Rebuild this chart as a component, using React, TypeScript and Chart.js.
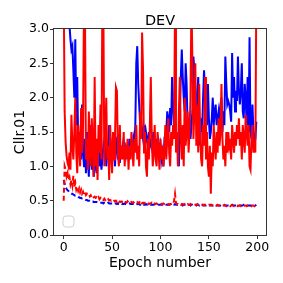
import React, { useEffect, useRef } from "react";
import { Chart, registerables } from "chart.js";

Chart.register(...registerables);

const epochs: number[] = Array.from({ length: 200 }, (_, i) => i);

const blueSolid: number[] = [
  4.5, 4.2, 3.9, 3.6, 3.4, 3.2, 3.05, 2.85, 2.7, 2.75,
  2.4, 2.0, 2.85, 1.6, 2.3, 1.3, 1.2, 1.5, 1.1, 1.9,
  1.2, 1.0, 1.4, 0.9, 1.5, 1.1, 0.85, 1.6, 1.2, 0.95,
  1.3, 0.85, 1.0, 1.2, 0.9, 1.1, 1.4, 1.0, 1.2, 0.95,
  1.1, 1.3, 1.2, 1.5, 1.0, 1.2, 1.1, 1.6, 1.3, 1.15,
  1.3, 1.2, 1.25, 1.0, 1.35, 1.4, 1.1, 1.25, 1.05, 1.3,
  1.2, 1.3, 1.15, 1.35, 1.1, 1.25, 1.3, 1.2, 1.4, 1.15,
  1.3, 1.25, 1.4, 1.3, 1.6, 2.5, 2.75, 2.2, 1.9, 1.6,
  1.7, 1.5, 1.4, 1.6, 1.3, 1.5, 1.4, 1.3, 1.5, 1.35,
  1.3, 1.4, 1.2, 1.5, 1.3, 1.2, 1.4, 1.25, 1.35, 1.2,
  1.3, 1.1, 1.2, 1.0, 1.35, 1.3, 1.5, 1.8, 1.7, 1.5,
  1.85, 1.6, 2.3, 1.9, 1.6, 1.5, 1.4, 1.3, 1.2, 1.0,
  1.8, 2.3, 2.7, 2.3, 2.0, 1.8, 2.5, 2.2, 1.6, 1.5,
  1.7, 1.4, 1.6, 1.8, 2.6, 2.4, 2.1, 1.7, 2.0, 2.3,
  1.5, 1.3, 1.7, 1.5, 2.0, 2.4, 2.1, 1.8, 1.6, 2.2,
  1.7, 1.4, 1.5, 1.7, 2.0, 1.6, 1.8, 1.9, 1.6, 1.7,
  1.8, 1.6, 1.9, 2.0, 1.5, 1.8, 1.6, 2.6, 2.2, 1.9,
  1.95, 1.9, 1.8, 1.65, 2.65, 2.0, 2.3, 1.8, 2.1, 1.95,
  2.6, 2.1, 1.9, 2.1, 2.5, 1.8, 1.7, 2.2, 2.0, 1.6,
  2.3, 1.5, 2.88, 1.5, 1.4, 1.9, 1.5, 1.35, 1.4, 1.65,
];

const redSolid: number[] = [
  3.6, 1.8, 1.35, 1.15, 1.05, 1.0, 1.2, 0.95, 1.75, 1.3,
  1.1, 1.5, 2.0, 1.2, 0.9, 1.6, 1.3, 1.0, 1.85, 1.2,
  1.6, 3.4, 3.2, 1.1, 1.4, 0.95, 1.8, 1.2, 1.0, 1.7,
  1.3, 0.85, 2.3, 1.0, 1.4, 0.8, 1.6, 1.2, 1.9, 1.1,
  3.5, 3.3, 1.0, 1.5, 2.0, 1.1, 1.3, 0.8, 1.6, 1.2,
  0.9, 1.5, 1.1, 1.4, 2.15, 2.1, 1.2, 1.0, 1.6, 1.1,
  1.3, 1.1, 1.5, 1.0, 1.3, 1.2, 1.4, 0.95, 1.3, 1.1,
  1.5, 1.2, 1.0, 1.4, 1.2, 1.6, 1.1, 1.3, 1.0, 1.8,
  1.4, 2.95, 2.4, 1.2, 1.5, 1.0, 0.85, 1.4, 1.1, 1.6,
  2.3, 1.4, 1.0, 1.2, 1.6, 1.1, 1.0, 1.5, 1.2, 0.95,
  1.4, 1.1, 1.3, 1.0, 1.2, 1.6, 1.1, 1.4, 1.7, 1.2,
  1.0, 1.5, 1.3, 1.6, 1.4, 3.3, 1.2, 1.5, 1.0, 1.8,
  2.3, 1.4, 1.1, 1.6, 1.0, 2.0, 1.3, 1.5, 1.8, 1.2,
  1.5, 2.0, 3.4, 2.5, 1.4, 1.8, 2.5, 1.3, 1.9, 1.2,
  2.2, 1.5, 1.1, 1.0, 1.6, 1.3, 2.3, 1.1, 1.5, 1.0,
  0.85, 1.3, 0.6, 1.2, 1.0, 1.6, 1.3, 1.1, 1.5, 1.2,
  1.7, 1.3, 1.5, 2.2, 1.4, 1.1, 1.3, 1.0, 1.5, 1.2,
  1.5, 1.3, 1.4, 1.1, 1.6, 1.4, 1.2, 1.5, 1.3, 1.6,
  1.4, 1.7, 1.3, 1.5, 1.1, 1.6, 1.4, 1.2, 1.75, 1.5,
  1.3, 1.6, 1.0, 0.95, 1.4, 1.6, 1.2, 1.3, 1.2, 3.5,
];

const blueDashed: number[] = [
  0.8, 0.75, 0.7, 0.67, 0.65, 0.64, 0.62, 0.61, 0.6, 0.6,
  0.59, 0.58, 0.57, 0.57, 0.56, 0.55, 0.55, 0.54, 0.54, 0.53,
  0.53, 0.52, 0.52, 0.51, 0.51, 0.5, 0.5, 0.5, 0.49, 0.49,
  0.49, 0.48, 0.48, 0.48, 0.48, 0.47, 0.47, 0.47, 0.47, 0.47,
  0.47, 0.46, 0.47, 0.46, 0.46, 0.46, 0.47, 0.46, 0.46, 0.46,
  0.46, 0.46, 0.45, 0.46, 0.46, 0.45, 0.46, 0.45, 0.45, 0.46,
  0.45, 0.45, 0.45, 0.46, 0.45, 0.45, 0.45, 0.45, 0.46, 0.45,
  0.45, 0.45, 0.45, 0.45, 0.45, 0.44, 0.45, 0.45, 0.45, 0.44,
  0.45, 0.44, 0.45, 0.44, 0.44, 0.45, 0.44, 0.44, 0.44, 0.45,
  0.44, 0.44, 0.44, 0.44, 0.45, 0.44, 0.44, 0.44, 0.44, 0.44,
  0.44, 0.44, 0.44, 0.45, 0.44, 0.44, 0.44, 0.44, 0.44, 0.44,
  0.44, 0.44, 0.44, 0.44, 0.44, 0.45, 0.44, 0.44, 0.44, 0.44,
  0.44, 0.44, 0.44, 0.43, 0.44, 0.44, 0.44, 0.43, 0.44, 0.44,
  0.44, 0.43, 0.44, 0.44, 0.43, 0.44, 0.44, 0.43, 0.44, 0.44,
  0.43, 0.44, 0.43, 0.44, 0.43, 0.44, 0.43, 0.43, 0.44, 0.43,
  0.43, 0.43, 0.44, 0.43, 0.43, 0.43, 0.44, 0.43, 0.43, 0.43,
  0.43, 0.43, 0.43, 0.44, 0.43, 0.43, 0.43, 0.43, 0.43, 0.43,
  0.43, 0.43, 0.43, 0.43, 0.44, 0.43, 0.43, 0.43, 0.43, 0.43,
  0.43, 0.43, 0.43, 0.43, 0.43, 0.43, 0.44, 0.43, 0.43, 0.43,
  0.43, 0.43, 0.43, 0.43, 0.43, 0.43, 0.43, 0.43, 0.43, 0.44,
];

const redDashed: number[] = [
  0.5, 1.0, 0.95, 0.85, 0.9, 0.8, 0.84, 0.74, 0.8, 0.72,
  0.86, 0.7, 0.76, 0.66, 0.7, 0.64, 0.68, 0.62, 0.66, 0.6,
  0.63, 0.59, 0.62, 0.58, 0.6, 0.58, 0.59, 0.56, 0.58, 0.55,
  0.57, 0.55, 0.56, 0.54, 0.55, 0.53, 0.55, 0.52, 0.54, 0.52,
  0.53, 0.51, 0.53, 0.51, 0.52, 0.5, 0.52, 0.5, 0.51, 0.5,
  0.51, 0.49, 0.5, 0.49, 0.5, 0.48, 0.5, 0.48, 0.49, 0.48,
  0.49, 0.48, 0.49, 0.47, 0.48, 0.47, 0.49, 0.47, 0.48, 0.47,
  0.48, 0.47, 0.48, 0.46, 0.47, 0.47, 0.48, 0.46, 0.47, 0.5,
  0.47, 0.46, 0.47, 0.46, 0.47, 0.46, 0.46, 0.47, 0.45, 0.46,
  0.46, 0.47, 0.45, 0.46, 0.46, 0.45, 0.46, 0.45, 0.46, 0.45,
  0.46, 0.45, 0.45, 0.46, 0.45, 0.45, 0.46, 0.45, 0.45, 0.44,
  0.45, 0.45, 0.46, 0.45, 0.5, 0.6, 0.47, 0.45, 0.45, 0.44,
  0.45, 0.44, 0.45, 0.45, 0.44, 0.45, 0.44, 0.44, 0.45, 0.44,
  0.44, 0.45, 0.44, 0.44, 0.45, 0.44, 0.44, 0.44, 0.45, 0.44,
  0.44, 0.44, 0.45, 0.44, 0.44, 0.43, 0.44, 0.44, 0.44, 0.43,
  0.44, 0.44, 0.43, 0.44, 0.43, 0.44, 0.44, 0.43, 0.43, 0.44,
  0.43, 0.43, 0.44, 0.43, 0.43, 0.43, 0.44, 0.43, 0.42, 0.43,
  0.43, 0.43, 0.42, 0.43, 0.43, 0.43, 0.42, 0.43, 0.43, 0.43,
  0.42, 0.43, 0.43, 0.42, 0.43, 0.43, 0.42, 0.43, 0.43, 0.42,
  0.43, 0.43, 0.42, 0.43, 0.42, 0.43, 0.43, 0.42, 0.43, 0.44,
];

const xTickValues: number[] = [0, 50, 100, 150, 200];
const titleText = "DEV";

const FONT = "'DejaVu Sans', sans-serif";

const framePlugin = {
  id: "frameAndLegend",
  afterDatasetsDraw(chart: any) {
    const { ctx, chartArea } = chart;
    ctx.save();
    ctx.strokeStyle = "#333";
    ctx.lineWidth = 1;
    ctx.strokeRect(
      Math.round(chartArea.left) - 0.5,
      Math.round(chartArea.top) - 0.5,
      Math.round(chartArea.right - chartArea.left) + 1,
      Math.round(chartArea.bottom - chartArea.top) + 1
    );
    // empty legend box (matplotlib legend with no handles)
    const x = chartArea.left + 9;
    const y = chartArea.bottom - 19;
    const w = 11;
    const h = 11;
    const r = 3;
    ctx.beginPath();
    ctx.moveTo(x + r, y);
    ctx.arcTo(x + w, y, x + w, y + h, r);
    ctx.arcTo(x + w, y + h, x, y + h, r);
    ctx.arcTo(x, y + h, x, y, r);
    ctx.arcTo(x, y, x + w, y, r);
    ctx.closePath();
    ctx.fillStyle = "rgba(255,255,255,0.8)";
    ctx.fill();
    ctx.strokeStyle = "#d0d0d0";
    ctx.lineWidth = 1;
    ctx.stroke();
    // title centred over the axes
    ctx.fillStyle = "#000";
    ctx.font = `14.5px ${FONT}`;
    ctx.textAlign = "center";
    ctx.textBaseline = "middle";
    ctx.fillText(titleText, (chartArea.left + chartArea.right) / 2, 21);
    ctx.restore();
  },
};

export default function App() {
  const ref = useRef<HTMLCanvasElement | null>(null);

  useEffect(() => {
    document.body.style.margin = "0";
    const canvas = ref.current;
    if (!canvas) return;
    const mk = (ys: number[]) => epochs.map((x, i) => ({ x, y: ys[i] }));
    const chart = new Chart(canvas, {
      type: "line",
      data: {
        datasets: [
          {
            data: mk(redSolid),
            borderColor: "#ff0000",
            borderWidth: 2,
            pointRadius: 0,
            tension: 0,
          },
          {
            data: mk(redDashed),
            borderColor: "#ff0000",
            borderWidth: 2,
            borderDash: [5, 3],
            pointRadius: 0,
            tension: 0,
          },
          {
            data: mk(blueSolid),
            borderColor: "#0000ff",
            borderWidth: 2,
            pointRadius: 0,
            tension: 0,
          },
          {
            data: mk(blueDashed),
            borderColor: "#0000ff",
            borderWidth: 2,
            borderDash: [5, 3],
            pointRadius: 0,
            tension: 0,
          },
        ],
      },
      options: {
        responsive: false,
        animation: false,
        layout: { padding: { left: 0, right: 17, top: 29, bottom: 11 } },
        plugins: {
          legend: { display: false },
          tooltip: { enabled: false },
          title: { display: false },
        },
        scales: {
          x: {
            type: "linear",
            min: -10,
            max: 209,
            afterBuildTicks: (axis: any) => {
              axis.ticks = xTickValues.map((v) => ({ value: v }));
            },
            afterFit: (axis: any) => {
              axis.height = 37;
            },
            ticks: {
              color: "#000",
              font: { family: FONT, size: 12.5 },
              padding: 1,
              maxRotation: 0,
              autoSkip: false,
            },
            grid: {
              display: true,
              drawOnChartArea: false,
              drawTicks: true,
              tickLength: 4,
              color: "#333",
            },
            border: { display: false },
            title: {
              display: true,
              text: "Epoch number",
              color: "#000",
              font: { family: FONT, size: 14 },
              padding: { top: 0, bottom: 0 },
            },
          },
          y: {
            type: "linear",
            min: 0,
            max: 3,
            afterFit: (axis: any) => {
              axis.width = 54;
            },
            ticks: {
              stepSize: 0.5,
              color: "#000",
              font: { family: FONT, size: 12.5 },
              padding: 1,
              callback: (v: any) => Number(v).toFixed(1),
            },
            grid: {
              display: true,
              drawOnChartArea: false,
              drawTicks: true,
              tickLength: 4,
              color: "#333",
            },
            border: { display: false },
            title: {
              display: true,
              text: "Cllr.01",
              color: "#000",
              font: { family: FONT, size: 14 },
              padding: { top: 12, bottom: 0 },
            },
          },
        },
      },
      plugins: [framePlugin],
    } as any);
    return () => chart.destroy();
  }, []);

  return (
    <div style={{ width: 283, height: 283 }}>
      <canvas ref={ref} width={283} height={283} style={{ display: "block" }} />
    </div>
  );
}
